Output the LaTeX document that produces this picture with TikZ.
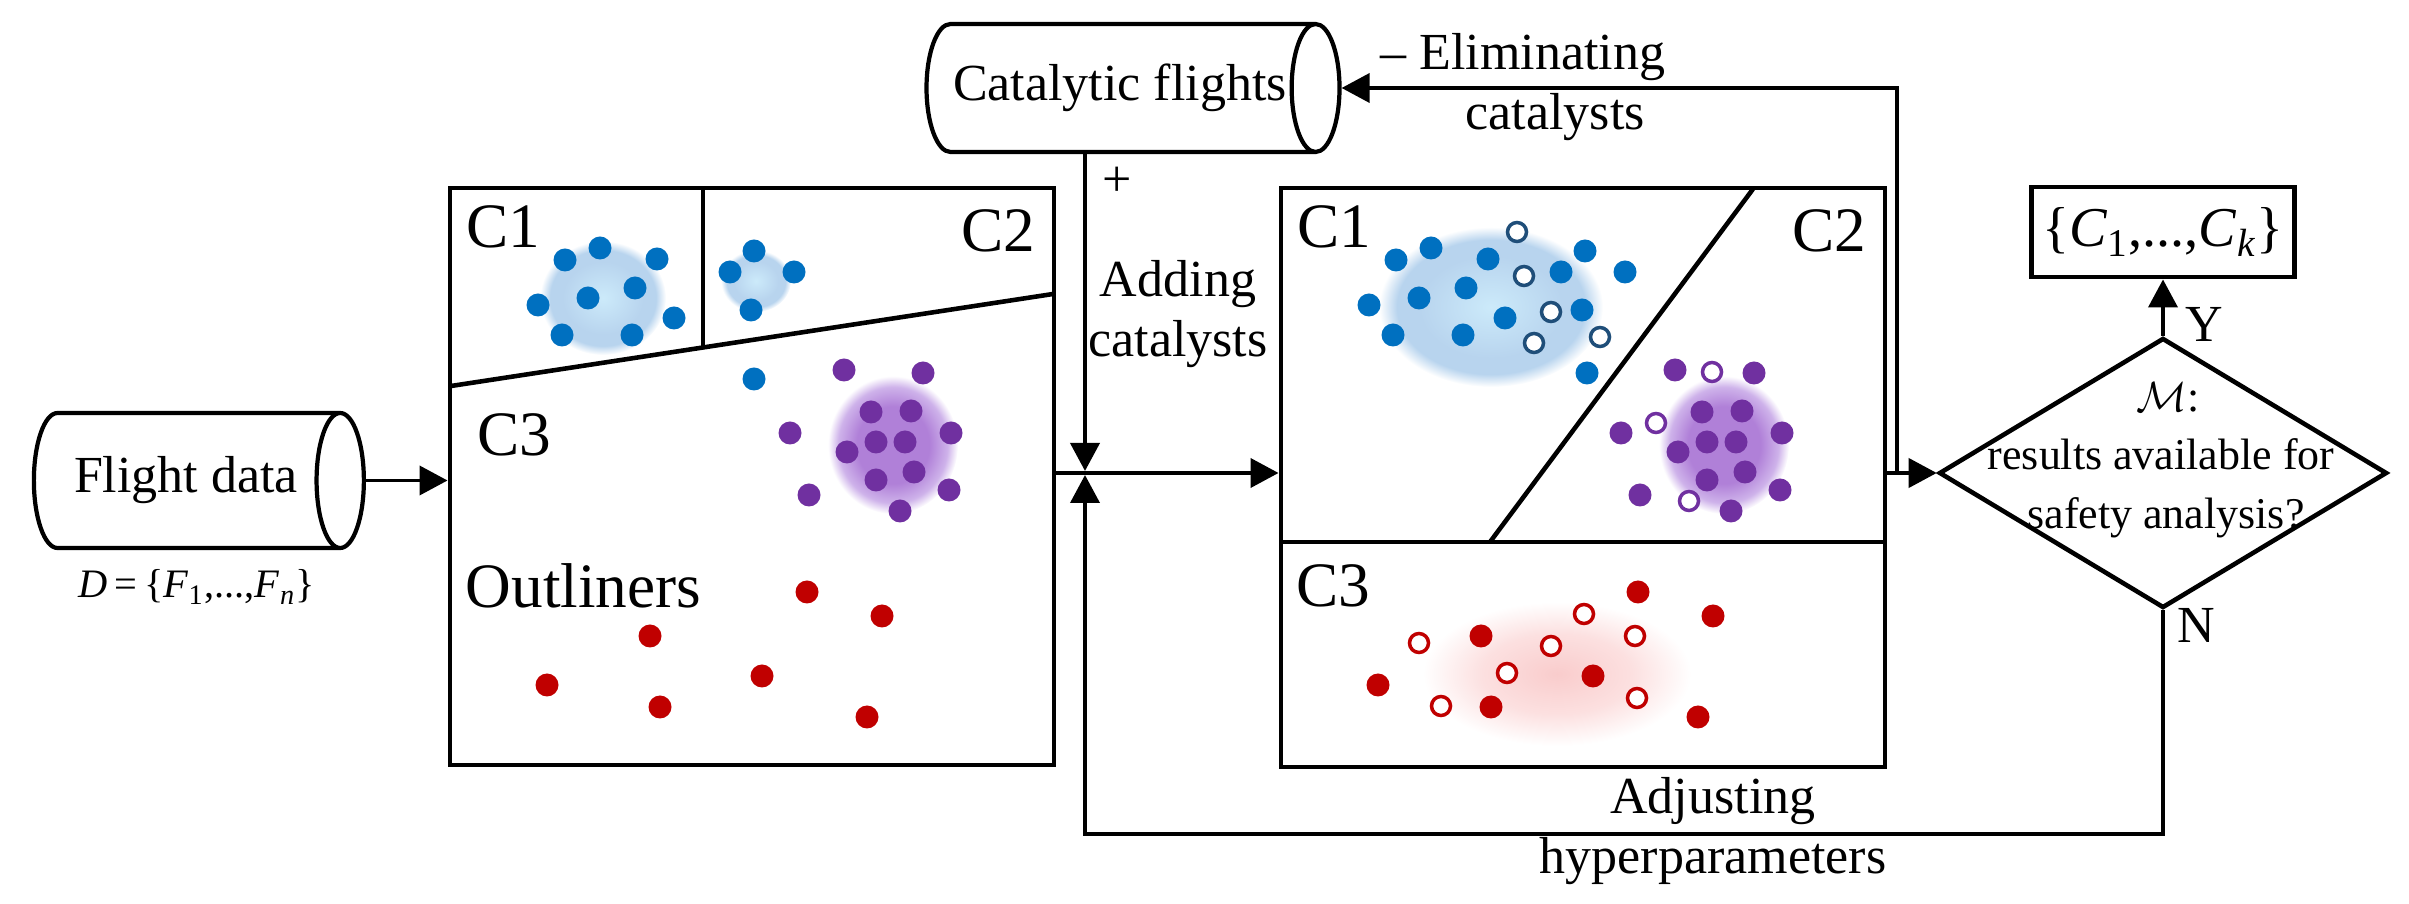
\documentclass[tikz,border=0pt]{standalone}
\usepackage{fontspec}
\setmainfont{Liberation Serif}
\usetikzlibrary{shapes.geometric,arrows.meta}
\definecolor{dotblue}{RGB}{0,112,192}
\definecolor{ringblue}{RGB}{31,78,121}
\definecolor{dotpurple}{RGB}{112,48,160}
\definecolor{dotred}{RGB}{192,0,0}
\definecolor{gbin}{RGB}{204,234,250}
\definecolor{gbout}{RGB}{184,212,238}
\definecolor{gpin}{RGB}{176,128,216}
\definecolor{gpout}{RGB}{206,178,234}
\definecolor{grin}{RGB}{249,204,204}
\definecolor{grout}{RGB}{252,224,224}
\pgfdeclareradialshading{glowblue}{\pgfpoint{0bp}{0bp}}{color(0bp)=(gbin); color(16bp)=(gbout); color(21bp)=(gbout); color(25bp)=(white); color(50bp)=(white)}
\pgfdeclareradialshading{glowpurple}{\pgfpoint{0bp}{0bp}}{color(0bp)=(gpin); color(14bp)=(gpin); color(21bp)=(gpout); color(25bp)=(white); color(50bp)=(white)}
\pgfdeclareradialshading{glowred}{\pgfpoint{0bp}{0bp}}{color(0bp)=(grin); color(14bp)=(grout); color(25bp)=(white); color(50bp)=(white)}

\begin{document}
\begin{tikzpicture}[
  box/.style={draw, line width=1.4pt, inner sep=0pt},
  drum/.style={cylinder, draw, line width=1.2pt, shape aspect=1.0, inner sep=0pt, font=\fontsize{14.8}{17}\selectfont},
  link/.style={line width=1.1pt, -{Triangle[length=2.8mm,width=2.9mm]}},
  part/.style={line width=1.3pt},
  lbl/.style={inner sep=0pt, font=\fontsize{14.8}{17}\selectfont},
  small/.style={inner sep=0pt, anchor=base, font=\fontsize{12.5}{15}\selectfont},
  tag/.style={inner sep=0pt, anchor=base west, font=\fontsize{18}{20}\selectfont}
]
\useasboundingbox (0,0) rectangle (24.09,-9.04);

\shade[shading=glowblue] (6.03,-2.98) ellipse (0.63 and 0.57);
\shade[shading=glowblue] (7.56,-2.81) ellipse (0.35 and 0.31);
\shade[shading=glowpurple] (8.93,-4.45) ellipse (0.65 and 0.69);
\begin{scope}[xshift=8.31cm]
\shade[shading=glowblue] (6.60,-3.07) ellipse (1.12 and 0.80);
\shade[shading=glowpurple] (8.93,-4.45) ellipse (0.65 and 0.69);
\shade[shading=glowred] (7.26,-6.74) ellipse (1.34 and 0.72);
\end{scope}

\node[drum, minimum height=3.30cm, minimum width=1.35cm] (flight) at (1.86,-4.805) {Flight data};
\node[lbl, font=\fontsize{11.5}{13}\selectfont] (dset) at (1.97,-5.87) {\textit{D}\,=\,\{\textit{F}\textsubscript{1},...,\textit{F}\textsubscript{\textit{n}}\}};
\node[drum, minimum height=4.13cm, minimum width=1.28cm] (catal) at (11.20,-0.88) {Catalytic flights};
\node[box, minimum width=6.04cm, minimum height=5.77cm] (box1) at (7.52,-4.765) {};
\node[box, minimum width=6.04cm, minimum height=5.79cm] (box2) at (15.83,-4.775) {};
\node[diamond, draw, line width=1.3pt, minimum width=4.48cm, minimum height=2.70cm, inner sep=0pt] (check) at (21.63,-4.73) {};
\node[box, minimum width=2.63cm, minimum height=0.90cm, font=\fontsize{16}{18}\selectfont] (result) at (21.63,-2.32) {\{\textit{C}\textsubscript{1},...,\textit{C}\textsubscript{\textit{k}}\}};

\draw[part] (7.03,-1.88) -- (7.03,-3.47);
\draw[part] (4.51,-3.86) -- (10.53,-2.94);
\draw[part] (12.82,-5.42) -- (18.84,-5.42);
\draw[part] (17.53,-1.89) -- (14.90,-5.42);

\node[tag] (c1a) at (4.66,-2.48) {C1};
\node[tag, anchor=base east] (c2a) at (10.36,-2.52) {C2};
\node[tag] (c3a) at (4.77,-4.56) {C3};
\node[tag] (outl) at (4.65,-6.08) {Outliners};
\node[tag] (c1b) at (12.97,-2.48) {C1};
\node[tag, anchor=base east] (c2b) at (18.67,-2.52) {C2};
\node[tag] (c3b) at (12.96,-6.07) {C3};

\coordinate (jn) at (10.85,-4.73);
\coordinate (fork) at (18.97,-4.73);
\coordinate (low) at (21.63,-8.34);

\draw[link] (flight.east) -- (flight.east -| box1.west);
\draw[link, shorten >=0.2mm] (jn |- catal.south) -- (jn);
\draw[link] (box1.east |- jn) -- (box2.west |- jn);
\draw[link] (box2.east |- jn) -- (check.west);
\draw[link] (fork) |- (catal.east);
\draw[link] (check.north) -- (result.south);
\draw[link, shorten >=0.2mm] (check.south) -- (low) -| (jn);

\node[lbl] (plus) at (11.17,-1.82) {+};
\node[lbl, anchor=base] (add1) at (11.78,-2.97) {Adding};
\node[lbl, anchor=base] (add2) at (11.78,-3.57) {catalysts};
\node[lbl, anchor=base west] (elim1) at (13.80,-0.70) {– Eliminating};
\node[lbl, anchor=base west] (elim2) at (14.65,-1.30) {catalysts};
\node[lbl, anchor=base] (adj1) at (17.13,-8.13) {Adjusting};
\node[lbl, anchor=base] (adj2) at (17.13,-8.74) {hyperparameters};
\node[lbl, anchor=base west] (yes) at (21.85,-3.42) {Y};
\node[lbl, anchor=base west] (no) at (21.77,-6.43) {N};
\node[small] (m1) at (21.68,-4.12) {$\mathcal{M}$:};
\node[small] (m2) at (21.61,-4.70) {results available for};
\node[small] (m3) at (21.66,-5.29) {safety analysis?};

\foreach \p in {(5.65,-2.60),(6.00,-2.48),(6.57,-2.59),(5.38,-3.05),(5.88,-2.98),(6.35,-2.88),(6.74,-3.18),(5.62,-3.35),(6.32,-3.35),(7.54,-2.51),(7.30,-2.72),(7.94,-2.72),(7.51,-3.10),(7.54,-3.79)}
  \fill[dotblue] \p circle (0.115);
\foreach \p in {(8.44,-3.70),(9.23,-3.73),(7.90,-4.33),(9.51,-4.33),(8.71,-4.12),(9.11,-4.11),(8.76,-4.42),(9.05,-4.42),(8.47,-4.52),(9.14,-4.72),(8.76,-4.80),(8.09,-4.95),(9.49,-4.90),(9.00,-5.11)}
  \fill[dotpurple] \p circle (0.115);
\foreach \p in {(8.07,-5.92),(8.82,-6.16),(6.50,-6.36),(5.47,-6.85),(7.62,-6.76),(6.60,-7.07),(8.67,-7.17)}
  \fill[dotred] \p circle (0.115);

\begin{scope}[xshift=8.31cm]
\foreach \p in {(5.65,-2.60),(6.00,-2.48),(6.57,-2.59),(5.38,-3.05),(5.88,-2.98),(6.35,-2.88),(7.30,-2.72),(7.54,-2.51),(7.94,-2.72),(6.74,-3.18),(7.51,-3.10),(5.62,-3.35),(6.32,-3.35),(7.56,-3.73)}
  \fill[dotblue] \p circle (0.115);
\foreach \p in {(6.86,-2.32),(6.93,-2.76),(7.20,-3.12),(7.69,-3.37),(7.03,-3.43)}
  \draw[ringblue, line width=1pt, fill=white] \p circle (0.095);
\foreach \p in {(8.44,-3.70),(9.23,-3.73),(7.90,-4.33),(9.51,-4.33),(8.71,-4.12),(9.11,-4.11),(8.76,-4.42),(9.05,-4.42),(8.47,-4.52),(9.14,-4.72),(8.76,-4.80),(8.09,-4.95),(9.49,-4.90),(9.00,-5.11)}
  \fill[dotpurple] \p circle (0.115);
\foreach \p in {(8.81,-3.72),(8.25,-4.23),(8.58,-5.01)}
  \draw[dotpurple, line width=1pt, fill=white] \p circle (0.095);
\foreach \p in {(8.07,-5.92),(8.82,-6.16),(6.50,-6.36),(5.47,-6.85),(7.62,-6.76),(6.60,-7.07),(8.67,-7.17)}
  \fill[dotred] \p circle (0.115);
\foreach \p in {(7.53,-6.14),(5.88,-6.43),(8.04,-6.36),(7.20,-6.46),(6.76,-6.73),(6.10,-7.06),(8.06,-6.98)}
  \draw[dotred, line width=1pt, fill=white] \p circle (0.095);
\end{scope}

\end{tikzpicture}
\end{document}
